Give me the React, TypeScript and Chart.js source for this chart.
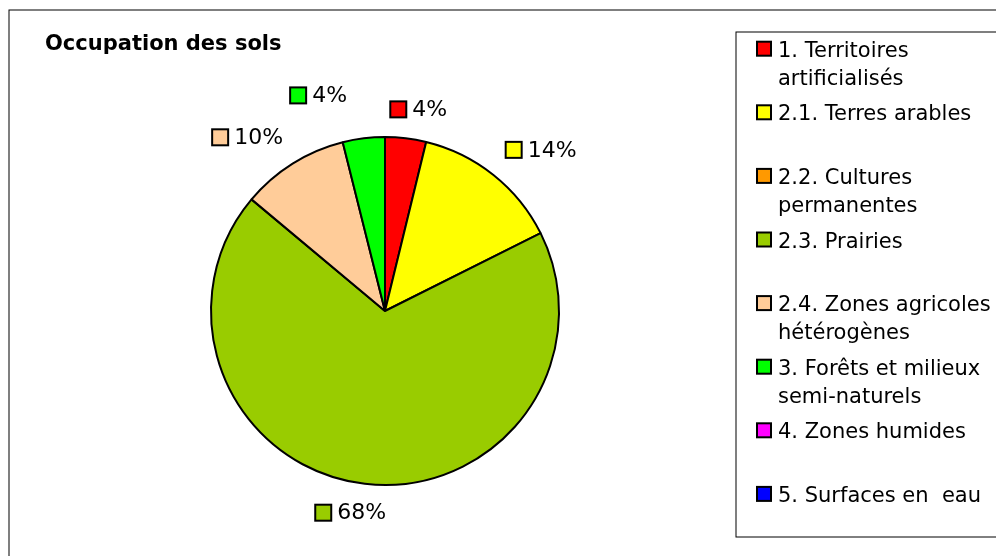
import React, { useEffect, useRef } from "react";
import { Chart, registerables } from "chart.js";

Chart.register(...registerables);

const chartTitle = "Occupation des sols";
const categories: string[][] = [
  ["1. Territoires", "artificialisés"],
  ["2.1. Terres arables"],
  ["2.2. Cultures", "permanentes"],
  ["2.3. Prairies"],
  ["2.4. Zones agricoles", "hétérogènes"],
  ["3. Forêts et milieux", "semi-naturels"],
  ["4. Zones humides"],
  ["5. Surfaces en  eau"],
];
const shares = [3.8, 13.8, 0, 68.4, 10.0, 3.9, 0, 0];
const sliceColors = [
  "#FF0000",
  "#FFFF00",
  "#FF9900",
  "#99CC00",
  "#FFCC99",
  "#00FF00",
  "#FF00FF",
  "#0000FF",
];

const FONT = '"DejaVu Sans", Verdana, sans-serif';

const clamp1 = (v: number) => Math.max(-1, Math.min(1, v));

const decorPlugin = {
  id: "decor",
  afterDraw(chart: any) {
    const ctx = chart.ctx as CanvasRenderingContext2D;
    ctx.save();
    // outer frame
    ctx.strokeStyle = "#000";
    ctx.lineWidth = 1;
    ctx.strokeRect(9, 10, 1200, 800);

    // title
    ctx.fillStyle = "#000";
    ctx.textBaseline = "alphabetic";
    ctx.textAlign = "left";
    ctx.font = `bold 21px ${FONT}`;
    ctx.fillText(chartTitle, 45, 50);

    // legend box
    ctx.strokeStyle = "#000";
    ctx.lineWidth = 1;
    ctx.strokeRect(736, 32, 500, 505);
    ctx.font = `21px ${FONT}`;
    const base0 = 56.7;
    const step = 63.6;
    const lineH = 28;
    categories.forEach((lines, i) => {
      const b = base0 + i * step;
      ctx.fillStyle = sliceColors[i];
      ctx.fillRect(757, b - 15, 14, 14);
      ctx.strokeStyle = "#000";
      ctx.lineWidth = 2;
      ctx.strokeRect(757, b - 15, 14, 14);
      ctx.fillStyle = "#000";
      lines.forEach((ln, k) => ctx.fillText(ln, 778, b + k * lineH));
    });

    // percentage labels
    const meta = chart.getDatasetMeta(0);
    const total = shares.reduce((a, b) => a + b, 0);
    const placed: { x: number; y: number; w: number; h: number }[] = [];
    ctx.font = `22px ${FONT}`;
    const sq = 18;
    const gap = 5;
    const h = 22;
    meta.data.forEach((arc: any, i: number) => {
      const v = shares[i];
      if (!v) return;
      const txt = Math.round((v / total) * 100) + "%";
      const w = sq + gap + ctx.measureText(txt).width;
      let m = (arc.startAngle + arc.endAngle) / 2;
      let extra = 0;
      const R = arc.outerRadius;
      const cx = arc.x;
      const cy = arc.y;
      const place = (ang: number, ext: number) => {
        const c = Math.cos(ang);
        const s = Math.sin(ang);
        const px = cx + (R + 18 + ext) * c;
        const py = cy + (R + 18 + ext) * s;
        const mx = px + clamp1(3 * c) * (w / 2);
        const my = py + clamp1(3 * s) * (h / 2);
        return { x: mx - w / 2, y: my - h / 2, w, h };
      };
      let box = place(m, extra);
      const overlaps = (b: any) =>
        placed.find(
          (p) =>
            b.x < p.x + p.w + 42 &&
            b.x + b.w + 42 > p.x &&
            b.y < p.y + p.h + 2 &&
            b.y + b.h + 2 > p.y
        );
      let o = overlaps(box);
      if (o) {
        const pc = Math.atan2(o.y + o.h / 2 - cy, o.x + o.w / 2 - cx);
        let diff = m - pc;
        while (diff > Math.PI) diff -= 2 * Math.PI;
        while (diff < -Math.PI) diff += 2 * Math.PI;
        const dir = diff >= 0 ? 1 : -1;
        let guard = 0;
        while (o && guard < 60) {
          m += dir * (Math.PI / 360);
          extra += 1.5;
          box = place(m, extra);
          o = overlaps(box);
          guard++;
        }
      }
      placed.push(box);
      const sy = box.y + (h - sq) / 2;
      ctx.fillStyle = sliceColors[i];
      ctx.fillRect(box.x + 1, sy + 1, sq - 2, sq - 2);
      ctx.strokeStyle = "#000";
      ctx.lineWidth = 2;
      ctx.strokeRect(box.x + 1, sy + 1, sq - 2, sq - 2);
      ctx.fillStyle = "#000";
      ctx.textBaseline = "middle";
      ctx.fillText(txt, box.x + sq + gap, box.y + h / 2 + 1);
      ctx.textBaseline = "alphabetic";
    });
    ctx.restore();
  },
};

export default function App() {
  const ref = useRef<HTMLCanvasElement>(null);
  useEffect(() => {
    if (!ref.current) return;
    const chart = new Chart(ref.current, {
      type: "pie",
      data: {
        labels: categories,
        datasets: [
          {
            data: shares,
            backgroundColor: sliceColors,
            borderColor: "#000",
            borderWidth: 2,
          },
        ],
      },
      options: {
        animation: false,
        responsive: false,
        devicePixelRatio: 1,
        layout: { padding: { left: 210, right: 436, top: 136, bottom: 70 } },
        plugins: {
          legend: { display: false },
          title: { display: false },
          tooltip: { enabled: false },
        },
      },
      plugins: [decorPlugin],
    });
    return () => chart.destroy();
  }, []);
  return (
    <div
      style={{
        position: "absolute",
        left: 0,
        top: 0,
        width: 996,
        height: 556,
        background: "#fff",
      }}
    >
      <canvas ref={ref} width={996} height={556} style={{ display: "block" }} />
    </div>
  );
}
